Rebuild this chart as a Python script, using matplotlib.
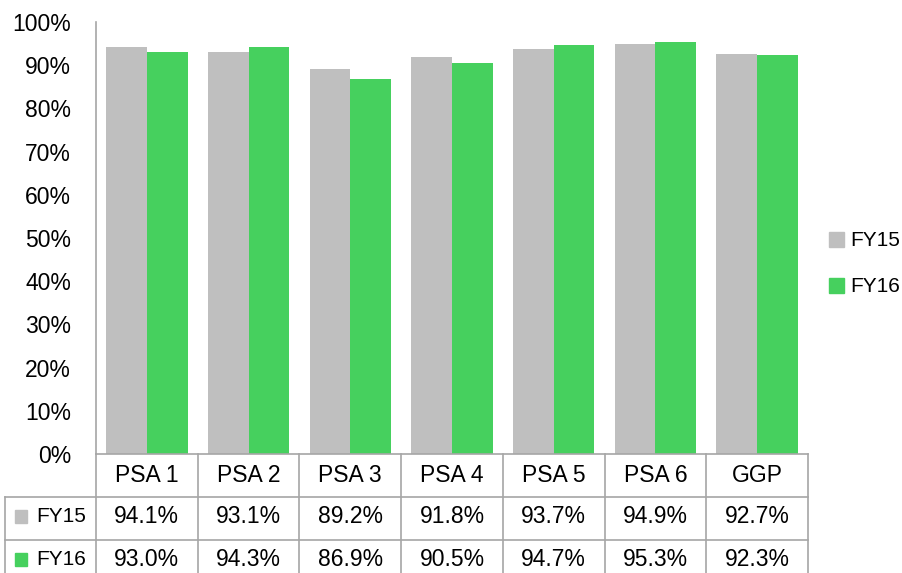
import matplotlib
matplotlib.use("Agg")
import matplotlib.pyplot as plt
from matplotlib.patches import Rectangle

categories = ['PSA 1', 'PSA 2', 'PSA 3', 'PSA 4', 'PSA 5', 'PSA 6', 'GGP']
fy15 = [94.1, 93.1, 89.2, 91.8, 93.7, 94.9, 92.7]
fy16 = [93.0, 94.3, 86.9, 90.5, 94.7, 95.3, 92.3]
series_names = ['FY15', 'FY16']
yticks = [0, 10, 20, 30, 40, 50, 60, 70, 80, 90, 100]

gray = '#BFBFBF'
green = '#46D05E'
line_c = '#A6A6A6'
colors = [gray, green]

plt.rcParams['font.family'] = ['Liberation Sans', 'DejaVu Sans']
fs = 16.5
fs_name = 15  # series names look narrower in the reference

W, H = 903, 573
fig = plt.figure(figsize=(W / 100, H / 100), dpi=100)

# plot area (pixel positions)
x0, x1 = 96, 808
y_top, y_base = 22, 454
ax = fig.add_axes([x0 / W, (H - y_base) / H, (x1 - x0) / W, (y_base - y_top) / H])

n = len(categories)
xs = list(range(n))
bw = 0.4
ax.bar([x - bw / 2 for x in xs], fy15, width=bw, color=gray, zorder=2)
ax.bar([x + bw / 2 for x in xs], fy16, width=bw, color=green, zorder=2)

ax.set_xlim(-0.5, n - 0.5)
ax.set_ylim(0, 100)
ax.set_yticks(yticks)
ax.set_yticklabels(['%d%%' % t for t in yticks], fontsize=fs)
ax.tick_params(axis='y', length=0, pad=18)
ax.set_xticks([])
for s in ['top', 'right', 'bottom']:
    ax.spines[s].set_visible(False)
ax.spines['left'].set_color(line_c)
ax.spines['left'].set_linewidth(1.2)

# data table below the plot
unit = (x1 - x0) / n
tab_left = 5
row_h = 43
xl = -0.5 - (x0 - tab_left) / unit
tab = fig.add_axes([tab_left / W, (H - y_base - 3 * row_h) / H,
                    (x1 - tab_left) / W, 3 * row_h / H])
tab.set_xlim(xl, n - 0.5)
tab.set_ylim(3, 0)
tab.axis('off')

lw = 1.2
for i in range(n + 1):
    tab.plot([i - 0.5, i - 0.5], [0, 3], color=line_c, lw=lw, clip_on=False)
tab.plot([xl, xl], [1, 3], color=line_c, lw=lw, clip_on=False)
tab.plot([-0.5, n - 0.5], [0, 0], color=line_c, lw=lw, clip_on=False)
for r in [1, 2, 3]:
    tab.plot([xl, n - 0.5], [r, r], color=line_c, lw=lw, clip_on=False)

for i, c in enumerate(categories):
    tab.text(i, 0.5, c, ha='center', va='center', fontsize=fs)
for r, (name, vals) in enumerate(zip(series_names, [fy15, fy16])):
    yy = 1.45 + r
    for i, v in enumerate(vals):
        tab.text(i, yy, '%.1f%%' % v, ha='center', va='center', fontsize=fs)
    tab.add_patch(Rectangle((xl + 10 / unit, yy - 0.15), 12 / unit, 0.3,
                            color=colors[r], clip_on=False))
    tab.text(xl + 31 / unit, yy, name, ha='left', va='center', fontsize=fs_name)

# legend at the right
for r, name in enumerate(series_names):
    ly = 240 + r * 46
    fig.patches.append(Rectangle((829 / W, (H - ly - 7) / H), 15 / W, 15 / H,
                                 color=colors[r], transform=fig.transFigure))
    fig.text(850 / W, (H - ly) / H, name, ha='left', va='center', fontsize=fs_name)

fig.savefig('out.png', dpi=100)
